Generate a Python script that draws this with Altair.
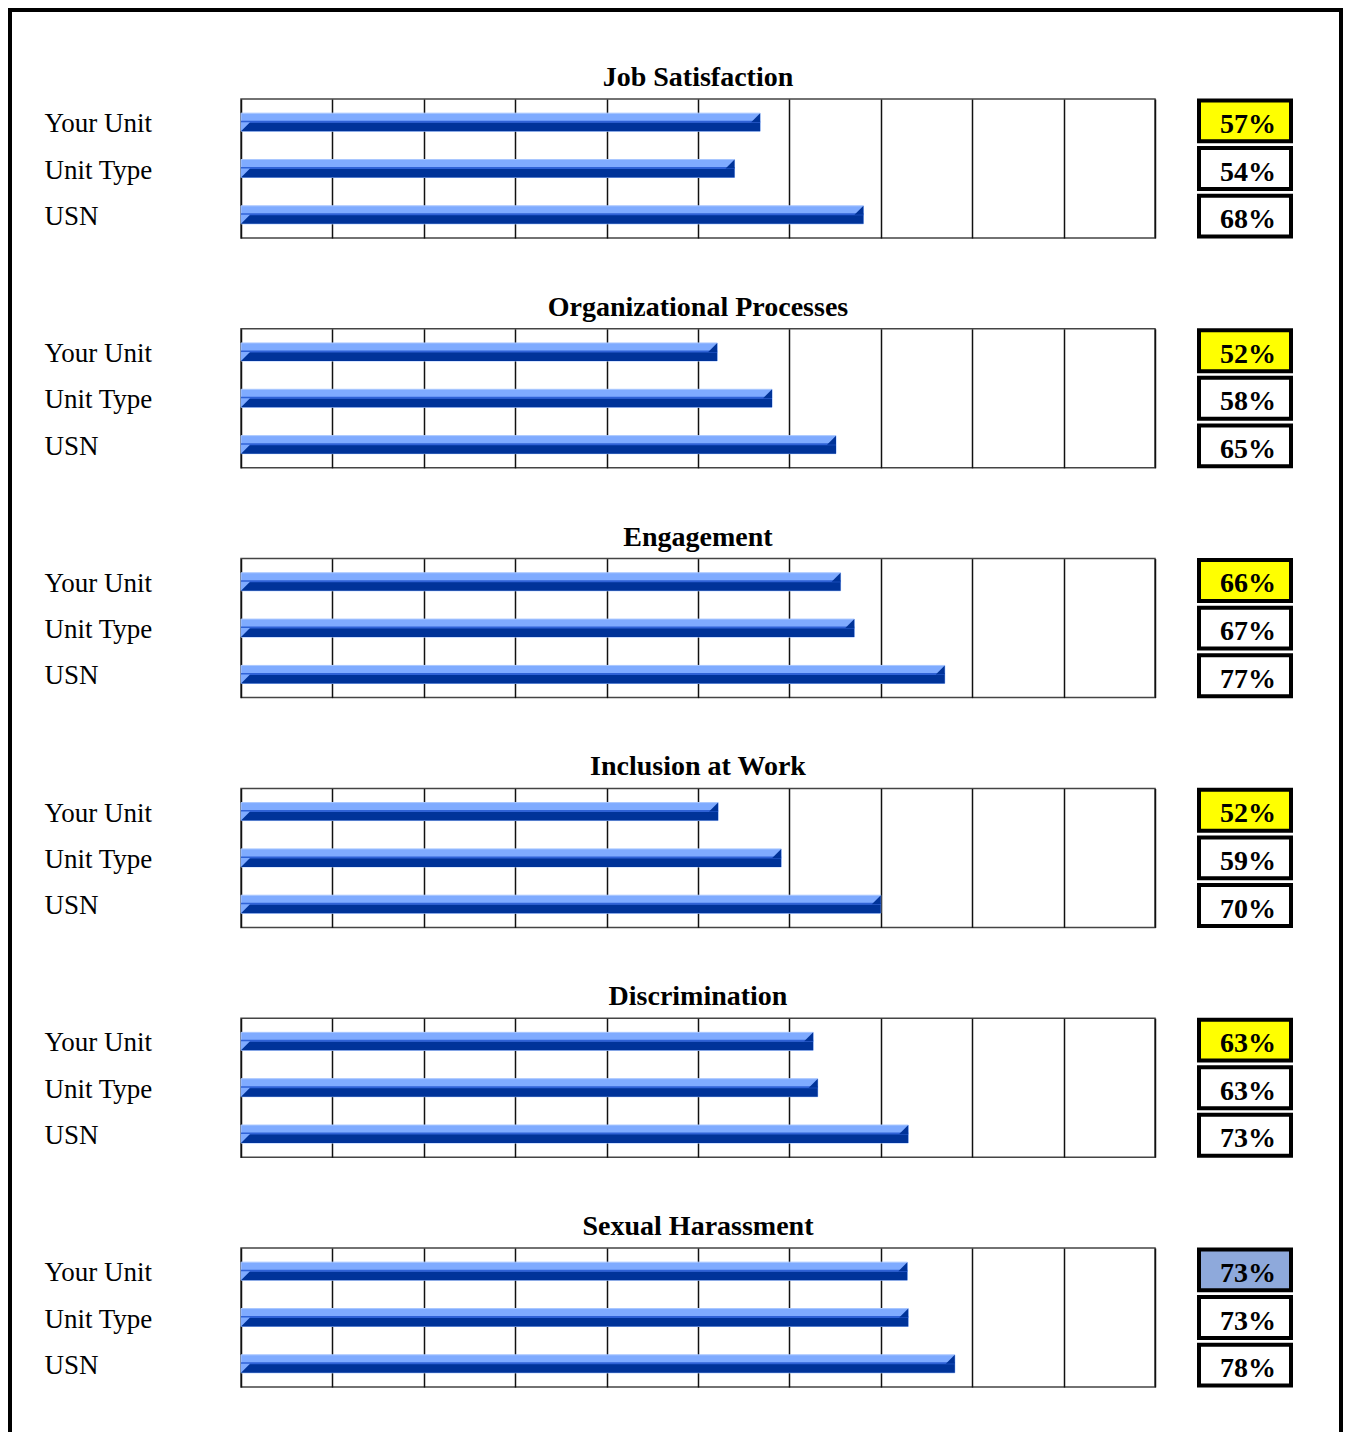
import altair as alt
import pandas as pd

categories = ["Job Satisfaction", "Organizational Processes", "Engagement",
              "Inclusion at Work", "Discrimination", "Sexual Harassment"]
groups = ["Your Unit", "Unit Type", "USN"]
your_unit = [56.8, 52.1, 65.6, 52.2, 62.6, 72.9]
unit_type = [54.0, 58.1, 67.1, 59.1, 63.1, 73.0]
usn = [68.1, 65.1, 77.0, 70.0, 73.0, 78.1]
your_unit_fill = ["#FFFF00", "#FFFF00", "#FFFF00", "#FFFF00", "#FFFF00", "#8EA9DB"]
grid_ticks = list(range(0, 101, 10))

LIGHT = "#7FABFF"
MID = "#2F62D6"
DARK = "#003399"
EDGE = "#A9C7FF"
SERIF = "Liberation Serif"

frame_df = pd.DataFrame({"a": [0]})


def frame_layers():
    # decorative outer page frame (left, top, right), drawn from the first value-box cell
    f = alt.Chart(frame_df)
    left = f.mark_rect(color="black").encode(
        x=alt.value(-1191), x2=alt.value(-1187), y=alt.value(-91), y2=alt.value(1345))
    top = f.mark_rect(color="black").encode(
        x=alt.value(-1191), x2=alt.value(144), y=alt.value(-91), y2=alt.value(-87))
    right = f.mark_rect(color="black").encode(
        x=alt.value(140), x2=alt.value(144), y=alt.value(-91), y2=alt.value(1345))
    return [left, top, right]


def panel(i):
    vals = [your_unit[i], unit_type[i], usn[i]]
    df = pd.DataFrame({
        "group": groups,
        "value": vals,
        "label": [f"{round(v)}%" for v in vals],
        "fill": [your_unit_fill[i], "#FFFFFF", "#FFFFFF"],
        "zero": [0, 0, 0],
    })
    base = alt.Chart(df)
    y_first = alt.Y("group:N", sort=groups,
                    scale=alt.Scale(paddingInner=0, paddingOuter=0),
                    axis=alt.Axis(title=None, labelAlign="left", labelPadding=197,
                                  ticks=False, domain=False, grid=False,
                                  labelFont=SERIF, labelFontSize=27, labelColor="black",
                                  labelBaseline="middle", labelOffset=2))
    y = alt.Y("group:N", sort=groups)
    x_first = alt.X("value:Q", scale=alt.Scale(domain=[0, 100], nice=False),
                    axis=alt.Axis(values=grid_ticks, grid=True, gridColor="#111111",
                                  gridWidth=1.5, labels=False, ticks=False,
                                  domain=False, title=None))
    light = base.mark_bar(color=LIGHT, size=18, stroke=EDGE, strokeWidth=1).encode(x=x_first, y=y_first)
    dark = base.mark_bar(color=DARK, size=9, yOffset=4.5).encode(x="value:Q", y=y)
    mid = base.mark_bar(color=MID, size=2, yOffset=-0.5).encode(x="value:Q", y=y)
    tri_r = base.mark_point(shape="M -1 1 L 1 1 L 1 -1 Z", size=81, filled=True,
                            color=DARK, opacity=1, strokeWidth=0,
                            xOffset=-4.5, yOffset=-4.5).encode(x="value:Q", y=y)
    tri_l = base.mark_point(shape="M -1 -1 L 1 -1 L -1 1 Z", size=81, filled=True,
                            color=LIGHT, opacity=1, strokeWidth=0,
                            xOffset=4.5, yOffset=4.5).encode(x="zero:Q", y=y)
    bars = alt.layer(light, dark, mid, tri_r, tri_l).properties(
        width=914, height=139,
        title=alt.TitleParams(categories[i], font=SERIF, fontSize=28, fontWeight="bold",
                              color="black", anchor="middle", frame="group", offset=7),
    )
    boxes = base.mark_rect(stroke="black", strokeWidth=4).encode(
        y=alt.Y("group:N", sort=groups,
                scale=alt.Scale(paddingInner=0.14, paddingOuter=0.03), axis=None),
        fill=alt.Fill("fill:N", scale=None),
    )
    txt = base.mark_text(font=SERIF, fontSize=28, fontWeight="bold", color="black",
                         dx=3, dy=4).encode(y=alt.Y("group:N", sort=groups), text="label:N")
    box_layers = [boxes, txt]
    if i == 0:
        box_layers += frame_layers()
    box = alt.layer(*box_layers).properties(
        width=92, height=139,
        view=alt.ViewBackground(stroke=None),
    )
    return [bars, box]


cells = []
for i in range(len(categories)):
    cells += panel(i)

chart = alt.concat(*cells, columns=2, bounds="flush",
                   spacing={"row": 90.8, "column": 44}).properties(
    padding=0, background="white"
).configure_view(stroke="#444444", strokeWidth=1.5)

chart.save("out.html", embed_options={"renderer": "svg", "actions": False})
